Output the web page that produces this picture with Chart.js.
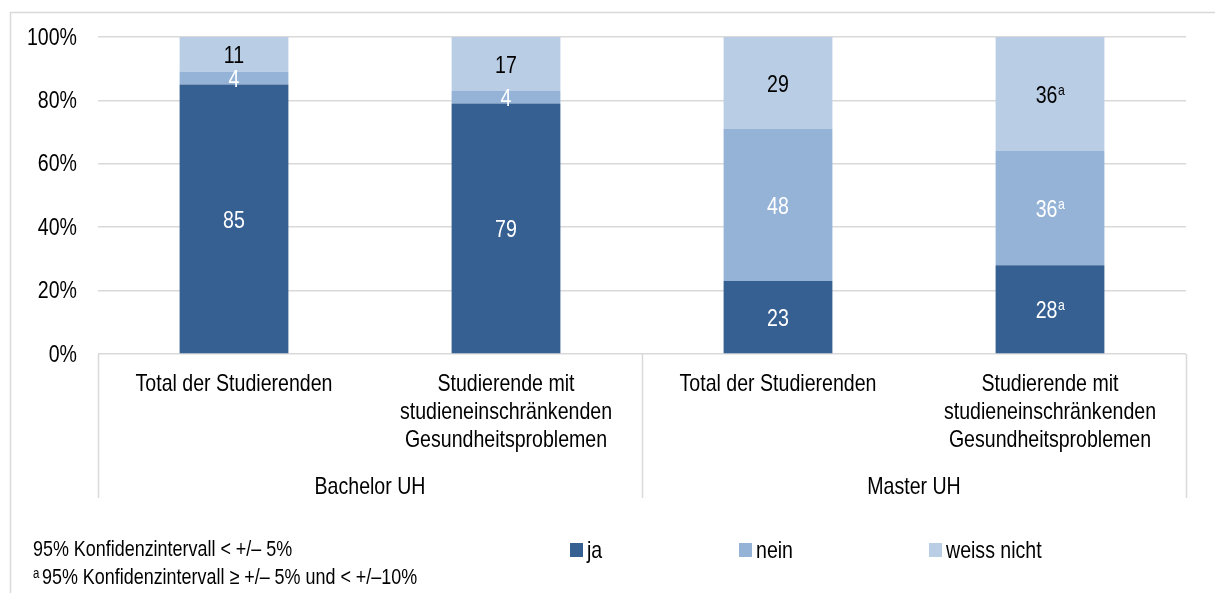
<!DOCTYPE html>
<html>
<head>
<meta charset="utf-8">
<script src="https://cdn.jsdelivr.net/npm/chart.js@4.4.1/dist/chart.umd.min.js"></script>
<style>
  html, body { margin: 0; padding: 0; background: #fff; }
  #wrap { width: 1215px; height: 593px; position: relative; }
</style>
</head>
<body>
<div id="wrap"><canvas id="chart"></canvas></div>
<script>
// categories (multi-line tick labels) and their groups
const categories = [
  ["Total der Studierenden"],
  ["Studierende mit", "studieneinschränkenden", "Gesundheitsproblemen"],
  ["Total der Studierenden"],
  ["Studierende mit", "studieneinschränkenden", "Gesundheitsproblemen"],
];
const groups = ["Bachelor UH", "Master UH"];
const groupSizes = [2, 2];

// series values (%)
const seriesNames = ["ja", "nein", "weiss nicht"];
const ja = [85, 79, 23, 28];
const nein = [4, 4, 48, 36];
const weissNicht = [11, 17, 29, 36];
// values marked with superscript "a" (wider confidence interval)
const markedA = [false, false, false, true];

const yTicks = [0, 20, 40, 60, 80, 100];
const notes = [
  "95% Konfidenzintervall < +/– 5%",
  "95% Konfidenzintervall ≥ +/– 5% und < +/–10%",
];

const FONT = '"Liberation Sans", Arial, sans-serif';
const SQ = 0.815; // horizontal squeeze to imitate a narrow font
const colors = ["#366092", "#95B3D7", "#B9CDE5"];
const labelColors = ["#ffffff", "#ffffff", "#000000"];
const gridColor = "#d9d9d9";

function textWidth(ctx, txt, size) {
  ctx.save();
  ctx.font = size + "px " + FONT;
  const w = ctx.measureText(txt).width * SQ;
  ctx.restore();
  return w;
}

function drawText(ctx, txt, x, y, size, align, color) {
  ctx.save();
  ctx.font = size + "px " + FONT;
  ctx.fillStyle = color || "#000";
  ctx.textAlign = align || "left";
  ctx.textBaseline = "middle";
  ctx.translate(x, y);
  ctx.scale(SQ, 1);
  ctx.fillText(txt, 0, 0);
  ctx.restore();
}

// value labels inside the bar segments
const barLabels = {
  id: "barLabels",
  afterDatasetsDraw(chart) {
    const ctx = chart.ctx;
    chart.data.datasets.forEach((ds, di) => {
      const meta = chart.getDatasetMeta(di);
      meta.data.forEach((bar, i) => {
        const txt = String(ds.data[i]);
        const y = (bar.y + bar.base) / 2 + 2;
        const w = textWidth(ctx, txt, 24);
        const supW = markedA[i] ? textWidth(ctx, "a", 15) : 0;
        const x0 = bar.x - (w + supW) / 2;
        drawText(ctx, txt, x0, y, 24, "left", labelColors[di]);
        if (markedA[i]) drawText(ctx, "a", x0 + w + 0.5, y - 5, 15, "left", labelColors[di]);
      });
    });
  },
};

// frame, axis labels, category boxes, group labels, legend and notes
const decorations = {
  id: "decorations",
  beforeDraw(chart) {
    const ctx = chart.ctx;
    ctx.save();
    ctx.strokeStyle = gridColor;
    ctx.lineWidth = 1.5;
    ctx.beginPath();
    ctx.moveTo(10.5, chart.height);
    ctx.lineTo(10.5, 12.5);
    ctx.lineTo(chart.width, 12.5);
    ctx.stroke();
    ctx.restore();
  },
  afterDraw(chart) {
    const ctx = chart.ctx;
    const area = chart.chartArea;
    const xs = chart.scales.x;
    const ys = chart.scales.y;
    const step = (area.right - area.left) / categories.length;

    // y tick labels
    yTicks.forEach((v) => {
      drawText(ctx, v + "%", area.left - 21, ys.getPixelForValue(v) + 1, 24, "right");
    });
    // category labels
    categories.forEach((lines, i) => {
      const cx = xs.getPixelForValue(i);
      lines.forEach((ln, k) => drawText(ctx, ln, cx, 384 + k * 28, 24, "center"));
    });

    // group separator lines
    ctx.save();
    ctx.strokeStyle = gridColor;
    ctx.lineWidth = 1.5;
    let idx = 0;
    const bounds = [area.left];
    groupSizes.forEach((n) => {
      idx += n;
      bounds.push(xs.getPixelForValue(idx - 1) + step / 2);
    });
    bounds.forEach((bx) => {
      ctx.beginPath();
      ctx.moveTo(Math.round(bx) + 0.5, area.bottom);
      ctx.lineTo(Math.round(bx) + 0.5, 498);
      ctx.stroke();
    });
    ctx.restore();
    // group labels
    groups.forEach((g, gi) => {
      drawText(ctx, g, (bounds[gi] + bounds[gi + 1]) / 2, 487, 24, "center");
    });

    // notes
    drawText(ctx, notes[0], 33, 550, 22, "left");
    drawText(ctx, "a", 33, 574, 14, "left");
    drawText(ctx, notes[1], 42, 578, 22, "left");

    // legend
    const legendX = [570, 739, 929];
    chart.data.datasets.forEach((ds, di) => {
      ctx.fillStyle = ds.backgroundColor;
      ctx.fillRect(legendX[di], 543, 13, 14);
      drawText(ctx, ds.label, legendX[di] + 17, 551, 24, "left");
    });
  },
};

const seriesData = [ja, nein, weissNicht];

new Chart(document.getElementById("chart"), {
  type: "bar",
  data: {
    labels: categories,
    datasets: seriesNames.map((name, i) => ({
      label: name,
      data: seriesData[i],
      backgroundColor: colors[i],
      borderWidth: 0,
      barPercentage: 0.4,
      categoryPercentage: 1,
    })),
  },
  options: {
    responsive: true,
    maintainAspectRatio: false,
    animation: false,
    layout: { padding: { left: 10, right: 29, top: 37, bottom: 0 } },
    plugins: { legend: { display: false }, tooltip: { enabled: false } },
    scales: {
      x: {
        stacked: true,
        grid: { display: false },
        border: { display: false },
        ticks: { display: false },
        afterFit(scale) { scale.height = 239; },
      },
      y: {
        stacked: true,
        min: 0,
        max: 100,
        afterBuildTicks(scale) { scale.ticks = yTicks.map((v) => ({ value: v })); },
        grid: { color: gridColor, lineWidth: 1.5, drawTicks: false },
        border: { display: false },
        ticks: { display: false },
        afterFit(scale) { scale.width = 88; },
      },
    },
  },
  plugins: [barLabels, decorations],
});
</script>
</body>
</html>
